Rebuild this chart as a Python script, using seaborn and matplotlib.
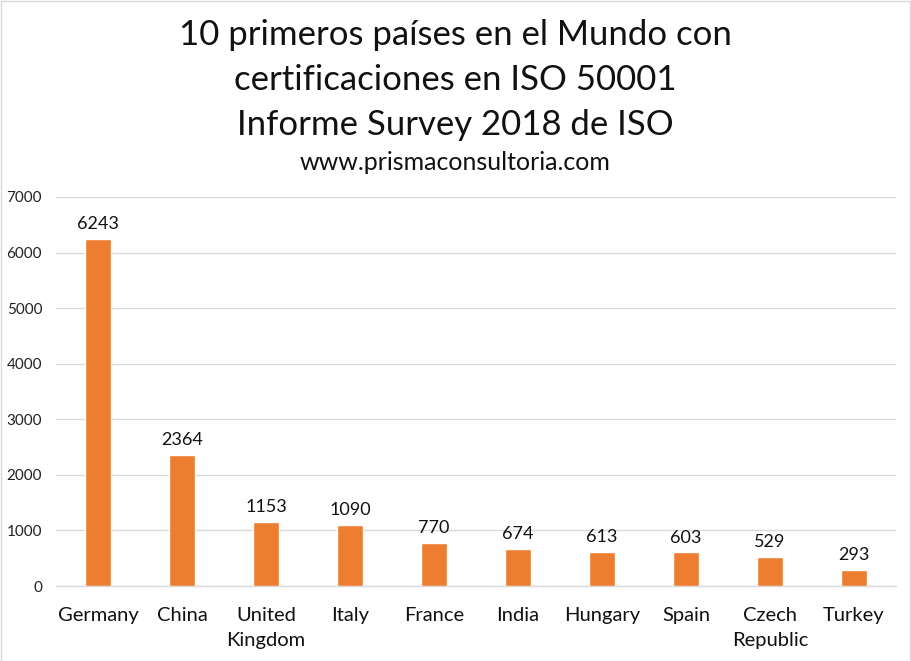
import matplotlib
matplotlib.use("Agg")
import matplotlib.pyplot as plt
import seaborn as sns
import pandas as pd

countries = ["Germany", "China", "United\nKingdom", "Italy", "France",
             "India", "Hungary", "Spain", "Czech\nRepublic", "Turkey"]
certs = [6243, 2364, 1153, 1090, 770, 674, 613, 603, 529, 293]
y_ticks = [0, 1000, 2000, 3000, 4000, 5000, 6000, 7000]

df = pd.DataFrame({"country": countries, "certs": certs})

sns.set_theme(style="white")
plt.rcParams["font.family"] = ["Lato", "DejaVu Sans"]

W, H = 911, 661
fig = plt.figure(figsize=(W / 100, H / 100), dpi=100)
ax = fig.add_axes([56 / W, (H - 586) / H, 840 / W, (586 - 197) / H])

sns.barplot(data=df, x="country", y="certs", color="#ED7D31", width=0.31,
            saturation=1, ax=ax, zorder=3)

ax.set_ylim(0, 7000)
ax.set_yticks(y_ticks)
ax.set_yticklabels([str(t) for t in y_ticks], fontsize=11, color="#222222")
ax.yaxis.grid(True, color="#D9D9D9", linewidth=1, zorder=0)
ax.tick_params(axis="x", labelsize=14.5, colors="#111111", length=0, pad=15)
ax.tick_params(axis="y", length=0, pad=10)
for lab in ax.get_xticklabels():
    lab.set_linespacing(1.55)
ax.set_xlabel("")
ax.set_ylabel("")
for s in ["top", "right", "left"]:
    ax.spines[s].set_visible(False)
ax.spines["bottom"].set_color("#D9D9D9")
ax.spines["bottom"].set_linewidth(1)

for i, v in enumerate(certs):
    ax.annotate(str(v), (i, v), xytext=(0, 5), textcoords="offset points",
                ha="center", va="bottom", fontsize=13, color="#111111")

title_lines = ["10 primeros países en el Mundo con",
               "certificaciones en ISO 50001",
               "Informe Survey 2018 de ISO"]
for k, line in enumerate(title_lines):
    fig.text(455 / W, 1 - (35 + 45 * k) / H, line, ha="center", va="center",
             fontsize=25, color="#111111")
fig.text(455 / W, 1 - 163 / H, "www.prismaconsultoria.com", ha="center",
         va="center", fontsize=18, color="#111111")

# thin light border around the chart
fig.patches.append(plt.Rectangle((0.5 / W, 0.5 / H), 1 - 1.5 / W, 1 - 1.5 / H,
                                 transform=fig.transFigure, fill=False,
                                 edgecolor="#D9D9D9", linewidth=1))

fig.savefig("out.png", dpi=100)
